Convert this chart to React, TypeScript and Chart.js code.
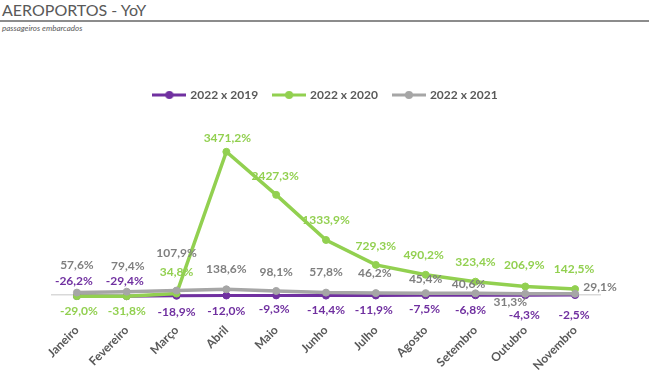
import React, { useEffect, useRef } from 'react';
import { Chart, registerables } from 'chart.js';

Chart.register(...registerables);

const MONTHS = ['Janeiro', 'Fevereiro', 'Março', 'Abril', 'Maio', 'Junho', 'Julho', 'Agosto', 'Setembro', 'Outubro', 'Novembro'];
const YOY_2019 = [-26.2, -29.4, -18.9, -12.0, -9.3, -14.4, -11.9, -7.5, -6.8, -4.3, -2.5];
const YOY_2020 = [-29.0, -31.8, 34.8, 3471.2, 2427.3, 1333.9, 729.3, 490.2, 323.4, 206.9, 142.5];
const YOY_2021 = [57.6, 79.4, 107.9, 138.6, 98.1, 57.8, 46.2, 45.4, 40.6, 31.3, 29.1];
const SERIES_NAMES = ['2022 x 2019', '2022 x 2020', '2022 x 2021'];

const TITLE = 'AEROPORTOS - YoY';
const SUBTITLE = 'passageiros embarcados';

// styling
const LINE_COLORS = ['#7030A0', '#92D050', '#A6A6A6'];
const LABEL_COLORS = ['#7030A0', '#92D050', '#7F7F7F'];
const FONT = 'Lato';
const Y_MAX = 4460;

// data-label offsets relative to each point (dx, dy), per series
const LABEL_OFFSETS: number[][][] = [
  [[-3, -15], [-2, -15], [0, 16], [0, 16], [-2, 14], [0, 15], [-2, 15], [-1, 14], [-5, 15], [-1, 20], [-1, 20]],
  [[2, 15], [0, 15], [0, -21], [1, -14], [-1, -19], [0, -20], [0, -19], [-2, -20], [0, -20], [-1, -21], [-1, -20]],
  [[0, -27], [1, -26], [0, -37], [0, -20], [0, -19], [0, -20], [-1, -20], [0, -14], [-7, -9], [-15, 8], [25, -7]],
];

function fmt(v: number) {
  return v.toFixed(1).replace('.', ',') + '%';
}

function legendImage(color: string) {
  const c = document.createElement('canvas');
  c.width = 34;
  c.height = 10;
  const ctx = c.getContext('2d')!;
  ctx.strokeStyle = color;
  ctx.lineWidth = 3;
  ctx.beginPath();
  ctx.moveTo(0, 5);
  ctx.lineTo(34, 5);
  ctx.stroke();
  ctx.fillStyle = color;
  ctx.beginPath();
  ctx.arc(17, 5, 4, 0, Math.PI * 2);
  ctx.fill();
  return c;
}

const dataLabelPlugin = {
  id: 'dataLabels',
  afterDatasetsDraw(chart: any) {
    const ctx = chart.ctx;
    ctx.save();
    ctx.font = `bold 12px ${FONT}`;
    ctx.textAlign = 'center';
    ctx.textBaseline = 'middle';
    chart.data.datasets.forEach((ds: any, di: number) => {
      const meta = chart.getDatasetMeta(di);
      ctx.fillStyle = LABEL_COLORS[di];
      meta.data.forEach((pt: any, i: number) => {
        const off = LABEL_OFFSETS[di][i] || [0, -15];
        ctx.fillText(fmt(ds.data[i]), pt.x + off[0], pt.y + off[1]);
      });
    });
    ctx.restore();
  },
};

export default function App() {
  const ref = useRef<HTMLCanvasElement>(null);

  useEffect(() => {
    document.body.style.margin = '0';
    const series = [YOY_2019, YOY_2020, YOY_2021];
    const widths = [3, 3.5, 3.5];
    const chart = new Chart(ref.current!, {
      type: 'line',
      data: {
        labels: MONTHS,
        datasets: series.map((d, i) => ({
          label: SERIES_NAMES[i],
          data: d,
          borderColor: LINE_COLORS[i],
          backgroundColor: LINE_COLORS[i],
          pointBackgroundColor: LINE_COLORS[i],
          pointBorderColor: LINE_COLORS[i],
          borderWidth: widths[i],
          pointRadius: 3.5,
          pointBorderWidth: 1,
          tension: 0,
          clip: false as any,
          order: 3 - i,
        })),
      },
      options: {
        responsive: false,
        animation: false,
        layout: { padding: { top: 73, left: 52, right: 50, bottom: 0 } },
        plugins: {
          title: { display: false },
          tooltip: { enabled: false },
          legend: {
            position: 'top',
            align: 'center',
            labels: {
              font: { family: FONT, size: 12, weight: 'bold' },
              color: '#595959',
              usePointStyle: true,
              pointStyleWidth: 30,
              padding: 16,
              sort: (a: any, b: any) => a.datasetIndex - b.datasetIndex,
              generateLabels: (c: any) =>
                c.data.datasets.map((ds: any, i: number) => ({
                  text: ds.label,
                  fillStyle: LINE_COLORS[i],
                  strokeStyle: LINE_COLORS[i],
                  lineWidth: 0,
                  hidden: false,
                  datasetIndex: i,
                  pointStyle: legendImage(LINE_COLORS[i]),
                  fontColor: '#595959',
                })),
            },
          },
        },
        scales: {
          x: {
            offset: true,
            grid: { display: false, drawTicks: false },
            border: { display: true, color: '#D9D9D9', width: 1.5 },
            afterFit: (scale: any) => {
              scale.height = 84;
            },
            ticks: {
              minRotation: 45,
              maxRotation: 45,
              padding: 28,
              color: '#595959',
              font: { family: FONT, size: 12, weight: 'bold' },
            },
          },
          y: {
            display: false,
            min: 0,
            max: Y_MAX,
          },
        },
      },
      plugins: [dataLabelPlugin],
    });
    return () => chart.destroy();
  }, []);

  return (
    <div style={{ position: 'relative', width: 650, height: 379, background: '#fff', overflow: 'hidden' }}>
      <div style={{ position: 'absolute', left: 2, top: 1, fontFamily: FONT, fontSize: 16, color: '#595959', lineHeight: '18px', whiteSpace: 'nowrap' }}>
        {TITLE}
      </div>
      <div style={{ position: 'absolute', left: 0, top: 20, width: 649, height: 2, background: '#8C8C8C' }} />
      <div style={{ position: 'absolute', left: 2, top: 23, fontFamily: FONT, fontSize: 8, fontStyle: 'italic', color: '#595959', lineHeight: '10px', whiteSpace: 'nowrap' }}>
        {SUBTITLE}
      </div>
      <canvas ref={ref} width={650} height={379} style={{ position: 'absolute', left: 0, top: 0 }} />
    </div>
  );
}
